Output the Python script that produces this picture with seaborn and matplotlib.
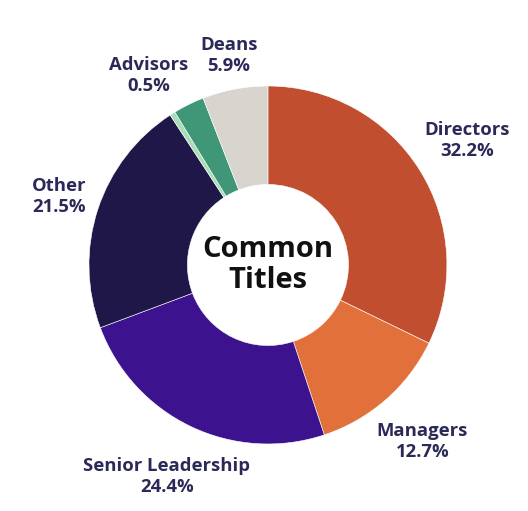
import numpy as np
import matplotlib
matplotlib.use("Agg")
import matplotlib.pyplot as plt
import seaborn as sns

# Data (clockwise from 12 o'clock)
titles = ["Directors", "Managers", "Senior Leadership", "Other", "Advisors", "", "Deans"]
shares = [32.2, 12.7, 24.4, 21.5, 0.5, 2.8, 5.9]
colors = ["#C14F2F", "#E2703A", "#3C128F", "#1E1748", "#A9DDB6", "#3F9777", "#D8D5CF"]

# label distance from centre (in outer radii), per slice
label_r = [1.31, 1.31, 1.31, 1.23, 1.25, 0, 1.19]

sns.set_theme(style="white")
plt.rcParams["font.family"] = ["Open Sans", "DejaVu Sans"]

fig = plt.figure(figsize=(5.28, 5.11), dpi=100)
ax = fig.add_axes([0, 0, 1, 1])

wedges, _ = ax.pie(
    shares,
    colors=colors,
    startangle=90,
    counterclock=False,
    radius=1.0,
    wedgeprops=dict(width=0.55, edgecolor="white", linewidth=0.4),
)

# slice labels at each wedge's mid angle
for w, name, val, r in zip(wedges, titles, shares, label_r):
    if not name:
        continue
    mid = np.deg2rad((w.theta1 + w.theta2) / 2)
    ax.text(r * np.cos(mid), r * np.sin(mid), f"{name}\n{val}%",
            ha="center", va="center", fontsize=13.3, fontweight="bold",
            color="#2B2958", linespacing=1.18)

ax.text(0, 0, "Common\nTitles", ha="center", va="center", fontsize=21,
        fontweight="bold", color="#111111", linespacing=1.05)

ax.set_aspect("equal")
ax.set_xlim(-1.497, 1.453)
ax.set_ylim(-1.374, 1.480)
ax.axis("off")

fig.savefig("out.png", dpi=100, facecolor="white")
